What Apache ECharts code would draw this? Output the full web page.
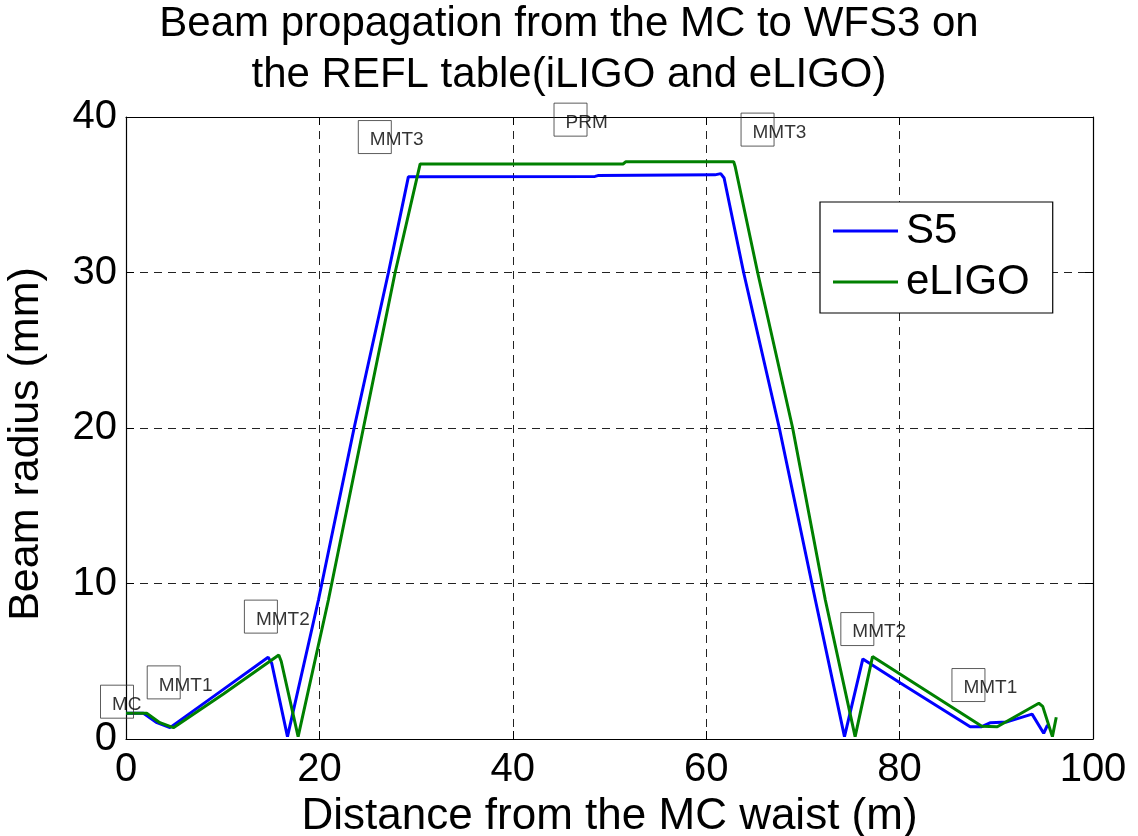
<!DOCTYPE html>
<html><head><meta charset="utf-8">
<script src="https://cdn.jsdelivr.net/npm/echarts@6/dist/echarts.min.js"></script>
<style>html,body{margin:0;padding:0;background:#fff}#c{width:1138px;height:836px}</style>
</head><body><div id="c"></div>
<script>
// Data (distance in m, beam radius in mm)
const s5X = [0, 1.8, 3.2, 4.55, 10.07, 14.7, 15.07, 16.7, 19.9, 23.59, 27.14, 29.2, 48.5, 48.8, 60.9, 61.5, 61.85, 63.87, 67.56, 71.29, 74.3, 76.2, 80.08, 87.3, 88.5, 89.4, 91.1, 93.7, 94.9, 95.3];
const s5Y = [1.65, 1.65, 1.05, 0.73, 3.19, 5.26, 4.87, 0.15, 8.94, 20, 30, 36.15, 36.18, 36.23, 36.28, 36.36, 36.08, 30, 20, 8.94, 0.15, 5.15, 3.6, 0.79, 0.79, 1.05, 1.1, 1.6, 0.37, 0.9];
const eligoX = [0, 2.14, 3.5, 4.9, 10.07, 15.8, 16.05, 17.8, 20.93, 24.55, 27.83, 30.42, 51.4, 51.7, 62.84, 63.0, 65.32, 68.94, 72.32, 75.4, 77.2, 88.5, 90.1, 94.4, 94.8, 95.8, 96.2];
const eligoY = [1.65, 1.65, 1.05, 0.73, 2.9, 5.4, 5.0, 0.15, 8.94, 20, 30, 36.98, 36.98, 37.13, 37.13, 36.8, 30, 20, 8.94, 0.15, 5.3, 0.82, 0.79, 2.3, 2.1, 0.15, 1.4];
const annotText = ['MC', 'MMT1', 'MMT2', 'MMT3', 'PRM', 'MMT3', 'MMT2', 'MMT1'];
const annotX = [-0.93, 3.9, 13.95, 25.73, 45.97, 65.31, 75.63, 87.12];
const annotY = [2.4, 3.64, 7.87, 38.71, 39.83, 39.19, 7.07, 3.47];
const xTicks = [0, 20, 40, 60, 80, 100];
const yTicks = [0, 10, 20, 30, 40];

const FONT = "'Liberation Sans', Arial, Helvetica, sans-serif";
const zip = (a, b) => a.map((v, i) => [v, b[i]]);
const annotData = annotX.map((x, i) => ({ value: [x, annotY[i]], name: annotText[i] }));

const chart = echarts.init(document.getElementById('c'), null, { renderer: 'canvas' });
const gridLine = { show: true, lineStyle: { color: '#222', type: [8, 6], width: 1 } };
const baseX = {
  type: 'value', min: xTicks[0], max: xTicks[xTicks.length - 1], interval: 20,
  axisLine: { show: true, onZero: false, lineStyle: { color: '#000', width: 1.2 } },
  axisTick: { show: true, inside: true, length: 8, lineStyle: { color: '#000' } }
};
const baseY = {
  type: 'value', min: yTicks[0], max: yTicks[yTicks.length - 1], interval: 10,
  axisLine: { show: true, onZero: false, lineStyle: { color: '#000', width: 1.2 } },
  axisTick: { show: true, inside: true, length: 8, lineStyle: { color: '#000' } }
};
chart.setOption({
  animation: false,
  backgroundColor: '#fff',
  title: {
    text: 'Beam propagation from the MC to WFS3 on\nthe REFL table(iLIGO and eLIGO)',
    left: 'center', top: -1, padding: 0,
    textStyle: { fontFamily: FONT, fontSize: 42, fontWeight: 'normal', color: '#000', lineHeight: 51, align: 'center' }
  },
  grid: { left: 126, right: 45, top: 117, bottom: 97, containLabel: false, outerBoundsMode: 'none' },
  legend: {
    data: ['S5', 'eLIGO'], orient: 'vertical', left: 820, top: 202,
    padding: [8, 23, 10, 13], itemGap: 9, itemWidth: 65, itemHeight: 3, icon: 'rect',
    backgroundColor: '#fff', borderColor: '#000', borderWidth: 1.2,
    textStyle: { fontFamily: FONT, fontSize: 42, color: '#000', padding: [0, 0, 0, 3] }
  },
  xAxis: [
    Object.assign({}, baseX, {
      position: 'bottom',
      splitLine: gridLine,
      axisLabel: { show: true, margin: 11, fontFamily: FONT, fontSize: 40, color: '#000' },
      name: 'Distance from the MC waist (m)', nameLocation: 'middle', nameGap: 51,
      nameTextStyle: { fontFamily: FONT, fontSize: 44, color: '#000' }
    }),
    Object.assign({}, baseX, { position: 'top', splitLine: { show: false }, axisLabel: { show: false } })
  ],
  yAxis: [
    Object.assign({}, baseY, {
      position: 'left',
      splitLine: gridLine,
      axisLabel: { show: true, margin: 9, fontFamily: FONT, fontSize: 40, color: '#000' },
      name: 'Beam radius (mm)', nameLocation: 'middle', nameGap: 78,
      nameTextStyle: { fontFamily: FONT, fontSize: 43, color: '#000', padding: [0, 32, 0, 0] }
    }),
    Object.assign({}, baseY, { position: 'right', splitLine: { show: false }, axisLabel: { show: false } })
  ],
  series: [
    {
      name: 'S5', type: 'line', data: zip(s5X, s5Y), symbol: 'none', showSymbol: false,
      color: '#0000ff', lineStyle: { color: '#0000ff', width: 3 }, z: 3
    },
    {
      name: 'eLIGO', type: 'line', data: zip(eligoX, eligoY), symbol: 'none', showSymbol: false,
      color: '#008000', lineStyle: { color: '#008000', width: 3 }, z: 4
    },
    {
      name: 'labels', type: 'scatter', data: annotData, clip: false, symbol: 'rect', symbolSize: 33,
      itemStyle: { color: 'rgba(0,0,0,0)', borderColor: '#333', borderWidth: 1 },
      label: {
        show: true, position: [12, 20], align: 'left', verticalAlign: 'middle',
        formatter: p => p.name, fontFamily: FONT, fontSize: 19, color: '#000'
      },
      emphasis: { disabled: true }, silent: true, z: 5
    }
  ]
});
</script></body></html>
